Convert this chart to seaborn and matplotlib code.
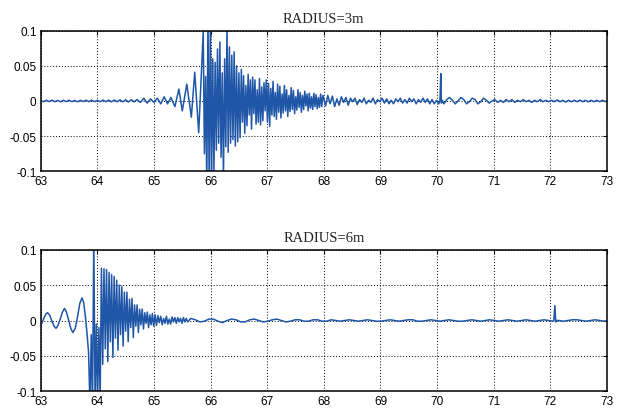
import numpy as np
import pandas as pd
import matplotlib
matplotlib.use("Agg")
import matplotlib.pyplot as plt
import seaborn as sns

# ---------------- data ----------------
titles = ["RADIUS=3m", "RADIUS=6m"]
xticks = [63, 64, 65, 66, 67, 68, 69, 70, 71, 72, 73]
xtick_labels = ["63", "64", "65", "66", "67", "68", "69", "70", "71", "72", "73"]
yticks = [-0.1, -0.05, 0, 0.05, 0.1]
ytick_labels = ["-0.1", "-0.05", "0", "0.05", "0.1"]

# ---- RADIUS=3m ----
r3_quiet_t0, r3_quiet_dt = 63.0, 0.05
r3_quiet = [0.0005, -0.001, 0.001, -0.0008, 0.0012, -0.001, 0.0008, -0.0011, 0.001, -0.0009,
            0.0012, -0.001, 0.0009, -0.0012, 0.001, -0.0008, 0.0011, -0.001, 0.0012, -0.0009,
            0.001, -0.0011, 0.0013, -0.001, 0.0012, -0.0012, 0.0014, -0.0011, 0.0015, -0.0012,
            0.0016, -0.0014, 0.0018, -0.0012]
r3_onset_t = [64.70, 64.76, 64.82, 64.88, 64.94, 65.00, 65.06, 65.12, 65.18, 65.24, 65.30,
              65.37, 65.44, 65.50, 65.58, 65.66, 65.72, 65.79]
r3_onset = [0.002, -0.002, 0.004, -0.003, 0.003, -0.002, 0.004, -0.004, 0.006, -0.004, 0.005,
            -0.008, 0.017, -0.014, 0.024, -0.023, 0.041, -0.045]
r3_burst_t0, r3_burst_dt = 65.87, 0.021
r3_burst = [0.098, -0.075, 0.035, -0.12, 0.12, -0.12, 0.115, -0.12, 0.060, -0.10,
            0.055, -0.070, 0.074, -0.060, 0.084, -0.080, 0.040, -0.11, 0.060, -0.065,
            0.105, -0.073, 0.077, -0.060, 0.065, -0.055, 0.070, -0.064, 0.050, -0.058,
            0.040, -0.052]
r3_tail_t0, r3_tail_dt = 66.543, 0.02
r3_tail = [0.045, -0.030, 0.036, -0.046, 0.022, -0.035, 0.038, -0.020, 0.030, -0.040,
           0.034, -0.018, 0.030, -0.033, 0.016, -0.030, 0.032, -0.034, 0.020, -0.028,
           0.026, -0.014, 0.030, -0.030, 0.025, -0.036, 0.018, -0.020, 0.028, -0.022,
           0.012, -0.026, 0.024, -0.016, 0.021, -0.024, 0.010, -0.017, 0.022, -0.014,
           0.016, -0.022, 0.008, -0.015, 0.019, -0.012, 0.015, -0.018, 0.006, -0.013,
           0.016, -0.009, 0.012, -0.016, 0.008, -0.012, 0.014, -0.007, 0.010, -0.014,
           0.011, -0.010, 0.006, -0.012, 0.011, -0.008, 0.009, -0.011, 0.005, -0.009,
           0.010, -0.008, 0.008]
r3_mid_t0, r3_mid_dt = 68.03, 0.04
r3_mid = [-0.007, 0.008, -0.004, 0.007, -0.008, 0.003, -0.006, 0.006, -0.002, 0.005,
          -0.006, 0.004, -0.001, 0.004, -0.005, 0.002, -0.002, 0.004, -0.004, 0.001,
          -0.002, 0.004, -0.004, 0.002, -0.001, 0.004, -0.003, 0.003, -0.004, 0.001,
          -0.004, 0.003, -0.001, 0.004, -0.003, 0.002, -0.003, 0.004, -0.001, 0.003,
          -0.004, 0.002, -0.002, 0.004, -0.002, 0.003, -0.004, 0.002, -0.004, 0.001,
          -0.004]
r3_spike_t = [70.05, 70.065, 70.075, 70.09]
r3_spike = [0.001, 0.039, -0.003, 0.001]
r3_late_t0, r3_late_dt = 70.12, 0.05
r3_late = [-0.004, 0.002, 0.005, 0.001, -0.004, 0.000, 0.005, 0.002, -0.004, -0.001,
           0.004, 0.002, -0.004, -0.001, 0.004, 0.001, -0.003, 0.000]
r3_end_t0, r3_end_dt = 71.02, 0.05
r3_end = [0.002, -0.002, 0.001, -0.002, 0.002, -0.001, 0.002, -0.002, 0.001, -0.001,
          0.002, -0.001, 0.001, -0.002, 0.001, -0.001, 0.002, -0.001, 0.001, -0.001,
          0.001, -0.001, 0.0015, -0.001, 0.001, -0.0015, 0.001, -0.001, 0.001, -0.001,
          0.0012, -0.001, 0.001, -0.0012, 0.001, -0.001, 0.001, -0.001, 0.001, -0.0008,
          0.0005]

# ---- RADIUS=6m ----
r6_onset_t = [63.00, 63.03, 63.06, 63.09, 63.12, 63.155, 63.195, 63.235, 63.27, 63.305,
              63.345, 63.385, 63.42, 63.455, 63.495, 63.535, 63.57, 63.61, 63.65, 63.69,
              63.73, 63.76, 63.79, 63.82, 63.845]
r6_onset = [-0.007, -0.002, 0.004, 0.009, 0.011, 0.008, 0.000, -0.008, -0.011, -0.007,
            0.002, 0.012, 0.017, 0.012, 0.000, -0.012, -0.017, -0.011, 0.005, 0.024,
            0.032, 0.025, 0.005, -0.020, -0.045]
r6_burst_t0, r6_burst_dt = 63.87, 0.0225
r6_burst = [-0.12, -0.02, -0.12, 0.12, -0.12, -0.005, -0.12, -0.01, -0.11, 0.074,
            -0.062, 0.073, -0.040, 0.072, -0.058, 0.068, -0.030, 0.065, -0.052, 0.062,
            -0.025, 0.057, -0.042, 0.050, -0.020, 0.048, -0.036, 0.040, -0.015, 0.040,
            -0.030, 0.030, -0.010, 0.031, -0.024, 0.022, -0.008, 0.022, -0.017, 0.016,
            -0.006, 0.016, -0.012, 0.011, -0.004, 0.012, -0.010, 0.008, -0.006, 0.010,
            -0.008]
r6_tail_t0, r6_tail_dt = 65.02, 0.025
r6_tail = [0.008, -0.007, 0.007, -0.003, 0.006, -0.006, 0.003, -0.004, 0.006, -0.005,
           0.002, -0.005, 0.005, -0.002, 0.004, -0.004, 0.004, -0.002, 0.003, -0.004,
           0.004, -0.002, 0.003, -0.002]
r6_slow_t0, r6_slow_dt = 65.65, 0.08
r6_slow = [0.003, 0.001, -0.002, -0.001, 0.002, 0.002, -0.001, -0.003, 0.000, 0.002,
           0.001, -0.002, -0.002, 0.001, 0.002, 0.000, -0.002,
           -0.001, 0.001, 0.002, 0.000, -0.002, -0.001, 0.001, 0.001, -0.001, -0.001,
           0.001, 0.001, -0.001, -0.001, 0.001, 0.000, -0.001, 0.000,
           0.001, 0.000, -0.001, 0.000, 0.001, 0.000, -0.001, -0.001, 0.000, 0.001,
           0.000, -0.001, 0.000, 0.001, 0.001, -0.001, -0.001, 0.000, 0.001, 0.000,
           -0.001, 0.000, 0.001, 0.000, -0.001, -0.001, 0.000, 0.001, 0.000, -0.001,
           0.000, 0.001, 0.000, -0.001, 0.000, 0.001, 0.000, -0.001, 0.000, 0.001,
           0.000, -0.001, 0.000, 0.001, 0.000, -0.001]
r6_spike_t = [72.06, 72.08, 72.095, 72.11]
r6_spike = [0.000, 0.021, -0.002, 0.000]
r6_end_t0, r6_end_dt = 72.15, 0.08
r6_end = [0.000, -0.001, 0.000, 0.001, 0.001, 0.000, -0.001, 0.000, 0.001, 0.000,
          -0.001, 0.000]


def grid(t0, dt, vals):
    return list(t0 + dt * np.arange(len(vals)))


def build(parts):
    ts, ys = [], []
    for t, y in parts:
        ts.extend(t)
        ys.extend(y)
    return pd.DataFrame({"t": ts, "v": ys})


df3 = build([
    (grid(r3_quiet_t0, r3_quiet_dt, r3_quiet), r3_quiet),
    (r3_onset_t, r3_onset),
    (grid(r3_burst_t0, r3_burst_dt, r3_burst), r3_burst),
    (grid(r3_tail_t0, r3_tail_dt, r3_tail), r3_tail),
    (grid(r3_mid_t0, r3_mid_dt, r3_mid), r3_mid),
    (r3_spike_t, r3_spike),
    (grid(r3_late_t0, r3_late_dt, r3_late), r3_late),
    (grid(r3_end_t0, r3_end_dt, r3_end), r3_end),
])
df6 = build([
    (r6_onset_t, r6_onset),
    (grid(r6_burst_t0, r6_burst_dt, r6_burst), r6_burst),
    (grid(r6_tail_t0, r6_tail_dt, r6_tail), r6_tail),
    (grid(r6_slow_t0, r6_slow_dt, r6_slow), r6_slow),
    (r6_spike_t, r6_spike),
    (grid(r6_end_t0, r6_end_dt, r6_end), r6_end),
])

# ---------------- drawing ----------------
sns.set_theme(style="white")
plt.rcParams["font.family"] = ["Liberation Sans", "DejaVu Sans"]

fig = plt.figure(figsize=(6.23, 4.10), dpi=100)
ax1 = fig.add_axes([40.7 / 623, 1 - 172.3 / 410, (607 - 40.7) / 623, (172.3 - 31.7) / 410])
ax2 = fig.add_axes([40.7 / 623, 1 - 392.3 / 410, (607 - 40.7) / 623, (392.3 - 250.7) / 410])

line_color = "#1f56a8"
for ax, df, title in [(ax1, df3, titles[0]), (ax2, df6, titles[1])]:
    sns.lineplot(data=df, x="t", y="v", ax=ax, color=line_color, linewidth=1.1,
                 estimator=None, sort=False)
    ax.set_xlim(63, 73)
    ax.set_ylim(-0.1, 0.1)
    ax.set_xticks(xticks)
    ax.set_xticklabels(xtick_labels)
    ax.set_yticks(yticks)
    ax.set_yticklabels(ytick_labels)
    ax.set_xlabel("")
    ax.set_ylabel("")
    ax.grid(True, color="black", linestyle=(0, (1, 2)), linewidth=0.7)
    ax.set_axisbelow(True)
    for s in ax.spines.values():
        s.set_visible(True)
        s.set_color("black")
        s.set_linewidth(1.1)
    ax.tick_params(axis="both", direction="in", length=3, width=0.8, labelsize=8.5,
                   colors="black", top=True, right=True, pad=3)
    ax.set_title(title, fontsize=10.5, family=["Liberation Serif", "DejaVu Serif"], pad=6)

fig.savefig("out.png", dpi=100, facecolor="white")
